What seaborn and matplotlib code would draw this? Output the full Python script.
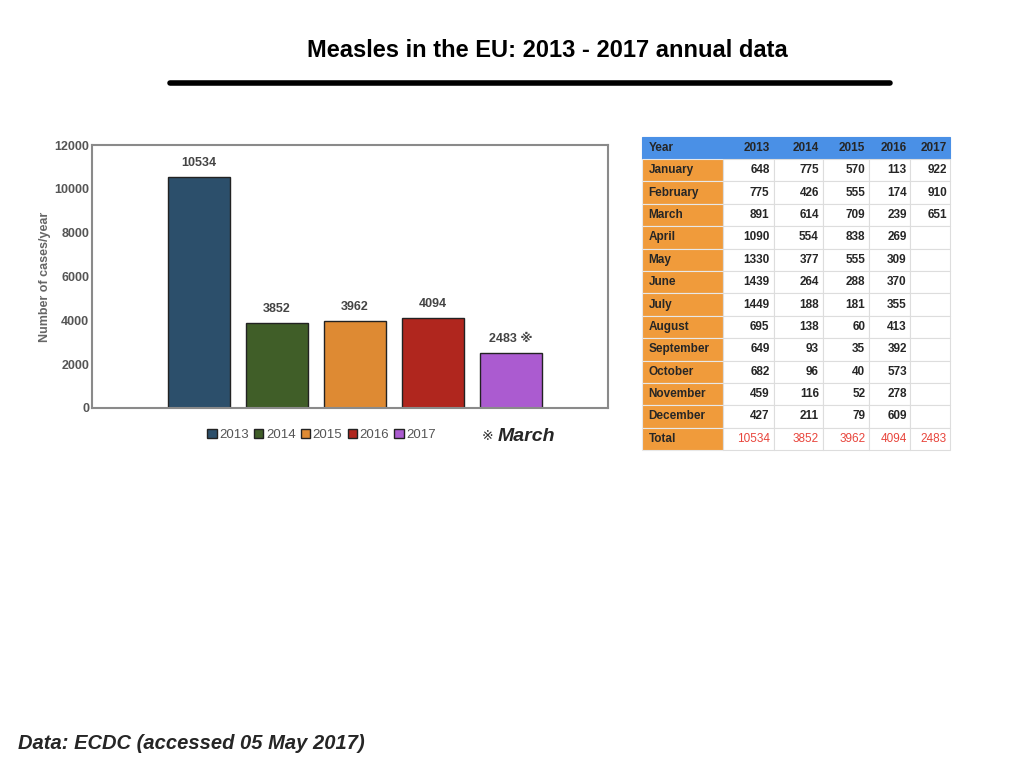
import matplotlib
matplotlib.use('Agg')
import matplotlib.pyplot as plt
import seaborn as sns
import pandas as pd

# data
years = ['2013', '2014', '2015', '2016', '2017']
totals = [10534, 3852, 3962, 4094, 2483]
bar_labels = ['10534', '3852', '3962', '4094', '2483 \u203b']
colors = ['#2c4f6b', '#405e28', '#de8a33', '#b0261e', '#ab5bd0']

months = ['January', 'February', 'March', 'April', 'May', 'June', 'July',
          'August', 'September', 'October', 'November', 'December']
m2013 = [648, 775, 891, 1090, 1330, 1439, 1449, 695, 649, 682, 459, 427]
m2014 = [775, 426, 614, 554, 377, 264, 188, 138, 93, 96, 116, 211]
m2015 = [570, 555, 709, 838, 555, 288, 181, 60, 35, 40, 52, 79]
m2016 = [113, 174, 239, 269, 309, 370, 355, 413, 392, 573, 278, 609]
m2017 = [922, 910, 651]

sns.set_theme(style='white')
FONTS = ['Liberation Sans', 'DejaVu Sans']
plt.rcParams['font.family'] = FONTS

fig = plt.figure(figsize=(10.24, 7.68), dpi=100)

# title + rule
fig.text(0.535, 0.934, 'Measles in the EU: 2013 - 2017 annual data', ha='center', va='center',
         fontsize=17, fontweight='bold', color='black')
fig.add_artist(plt.Line2D([0.166, 0.869], [0.892, 0.892], color='black', lw=4))

# %% bar chart
ax = fig.add_axes([0.0898, 0.469, 0.504, 0.342])
df = pd.DataFrame({'year': years, 'cases': totals})
sns.barplot(data=df, x='year', y='cases', hue='year', palette=colors, width=0.8,
            saturation=1, edgecolor='#222222', linewidth=1, legend=True, ax=ax)
ax.set_xlim(-1.37, 5.24)
ax.set_ylim(0, 12000)
ax.set_yticks([0, 2000, 4000, 6000, 8000, 10000, 12000])
ax.set_xticks([])
ax.set_xlabel('')
ax.set_ylabel('Number of cases/year', fontsize=9, fontweight='bold', color='#666666', labelpad=2)
for lab in ax.get_yticklabels():
    lab.set_fontweight('bold')
    lab.set_color('#555555')
    lab.set_fontsize(9)
ax.tick_params(axis='y', length=0, pad=2)
for sp in ax.spines.values():
    sp.set_color('#8a8a8a')
    sp.set_linewidth(1.5)

for i, cont in enumerate(ax.containers):
    ax.bar_label(cont, labels=[bar_labels[i]], padding=6, fontsize=9,
                 fontweight='bold', color='#444444', family=FONTS)

ax.legend(loc='upper center', bbox_to_anchor=(0.445, -0.035), ncol=5, frameon=False,
          fontsize=9.5, handlelength=0.7, handleheight=0.7, handletextpad=0.2,
          columnspacing=0.4, labelcolor='#555555')
fig.text(0.470, 0.432, '\u203b', fontsize=10, color='#333333', va='center', family=['DejaVu Sans'])
fig.text(0.486, 0.432, 'March', fontsize=14, fontweight='bold', style='italic', va='center')

# %% table
tax = fig.add_axes([0.627, 0.414, 0.301, 0.408])
tax.axis('off')
cols = [m2013, m2014, m2015, m2016, m2017]
rows = []
for r, name in enumerate(months):
    row = [name]
    for c in cols:
        row.append(str(c[r]) if r < len(c) else '')
    rows.append(row)
rows.append(['Total'] + [str(t) for t in totals])
header = ['Year'] + years
tab = tax.table(cellText=rows, colLabels=header, bbox=[0, 0, 1, 1],
                colWidths=[81, 50, 49, 46, 41, 40], cellLoc='right')
tab.auto_set_font_size(False)
for (r, c), cell in tab.get_celld().items():
    cell.set_edgecolor('#dddddd')
    cell.set_linewidth(0.8)
    cell.PAD = 0.08
    txt = cell.get_text()
    txt.set_fontsize(8.5)
    txt.set_fontweight('bold')
    txt.set_ha('left' if c == 0 else 'right')
    if r == 0:
        cell.set_facecolor('#4a90e6')
        cell.set_edgecolor('#4a90e6')
    elif c == 0:
        cell.set_facecolor('#f09b3b')
        cell.set_edgecolor('#e8e8e8')
    if r == len(rows) and c > 0:
        txt.set_color('#e8453c')
        txt.set_fontweight('normal')

fig.text(0.018, 0.032, 'Data: ECDC (accessed 05 May 2017)', fontsize=14.5, fontweight='bold',
         style='italic', va='center')

plt.savefig('out.png', dpi=100)
